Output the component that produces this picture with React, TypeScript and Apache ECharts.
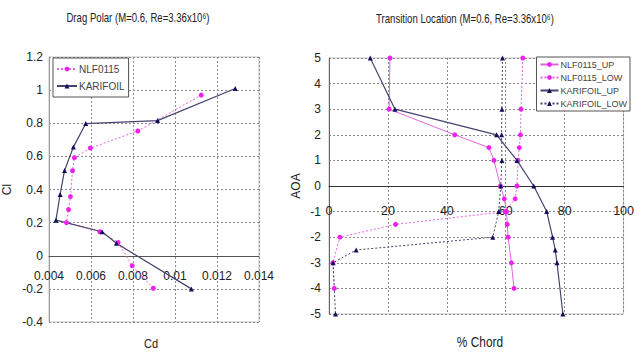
import React, { useEffect, useRef } from "react";
import * as echarts from "echarts";

const FONT = "'Liberation Sans', Arial, sans-serif";

// Drag polar
const nlfCd = [0.00897, 0.00796, 0.00729, 0.00642, 0.00483, 0.00493, 0.00502, 0.00512, 0.00521, 0.00597, 0.00823, 0.01125];
const nlfCl = [-0.196, -0.06, 0.08, 0.145, 0.2, 0.279, 0.357, 0.513, 0.592, 0.65, 0.753, 0.97];
const karCd = [0.01078, 0.00721, 0.00653, 0.00433, 0.00453, 0.00474, 0.00516, 0.00575, 0.00917, 0.01287];
const karCl = [-0.2, 0.075, 0.145, 0.215, 0.37, 0.515, 0.656, 0.798, 0.816, 1.01];

// Transition location
const nlfUpAoa = [5, 3, 2, 1.5, 1, 0, -0.5, -1, -1.5, -2, -3, -4];
const nlfUpPct = [20.7, 20.4, 42.7, 54.3, 56.0, 58.2, 59.5, 60.3, 60.5, 60.8, 61.9, 62.8];
const nlfLowAoa = [5, 3, 2, 1.5, 1, 0, -0.5, -1, -1.5, -2, -3, -4];
const nlfLowPct = [65.8, 65.2, 65.0, 64.6, 64.2, 63.8, 63.2, 59.8, 22.6, 3.7, 1.3, 1.8];
const karUpAoa = [5, 3, 2, 1, 0, -1, -2, -2.5, -3, -5];
const karUpPct = [14.0, 22.4, 56.9, 63.8, 69.5, 73.9, 75.9, 76.8, 77.4, 79.4];
const karLowAoa = [5, 3, 2, 1, 0, -1, -2, -2.5, -3, -5];
const karLowPct = [58.9, 58.7, 58.6, 58.7, 58.3, 57.6, 55.6, 9.2, 1.4, 2.2];

const leftTitle = "Drag Polar (M=0.6, Re=3.36x10⁶)";
const rightTitle = "Transition Location (M=0.6, Re=3.36x10⁶)";

const PINK = "#f020f0";
const PINK_LINE = "#e066e0";
const NAVY = "#10105a";
const NAVY_LINE = "#44446e";

const zip = (xs: number[], ys: number[]) => xs.map((x, i) => [x, ys[i]]);

const gridLine = { show: true, lineStyle: { type: [2, 2] as any, color: "#8a8a8a", width: 1 } };
const labelStyle = { fontFamily: FONT, fontSize: 12, color: "#222" };

export default function App() {
  const ref = useRef<HTMLDivElement>(null);
  useEffect(() => {
    const chart = echarts.init(ref.current!, null, { renderer: "svg" });
    chart.setOption({
      animation: false,
      backgroundColor: "#fff",
      textStyle: { fontFamily: FONT },
      grid: [
        { left: 47, top: 57, width: 212, height: 265, show: true, borderColor: "#c4c4c4", borderWidth: 1 },
        { left: 329, top: 58, width: 301, height: 256, show: true, borderColor: "#c4c4c4", borderWidth: 1 },
      ],
      xAxis: [
        {
          gridIndex: 0, type: "value", min: 0.004, max: 0.014, interval: 0.002,
          axisLine: { onZero: true, lineStyle: { color: "#555", width: 1 } },
          axisTick: { show: false },
          axisLabel: { ...labelStyle, margin: -52, formatter: (v: number) => String(parseFloat(v.toFixed(3))) },
          splitLine: gridLine,
        },
        {
          gridIndex: 1, type: "value", min: 0, max: 100, interval: 20,
          axisLine: { onZero: true, lineStyle: { color: "#333", width: 1 } },
          axisTick: { show: false },
          axisLabel: { ...labelStyle, fontSize: 12.5, margin: -110 },
          splitLine: gridLine,
        },
      ],
      yAxis: [
        {
          gridIndex: 0, type: "value", min: -0.4, max: 1.2, interval: 0.2,
          axisLine: { show: true, lineStyle: { color: "#999" } },
          axisTick: { show: false },
          axisLabel: { ...labelStyle, margin: 6, formatter: (v: number) => String(parseFloat(v.toFixed(2))) },
          splitLine: gridLine,
          name: "Cl", nameLocation: "middle", nameGap: 36,
          nameTextStyle: { fontFamily: FONT, fontSize: 12, color: "#222" },
        },
        {
          gridIndex: 1, type: "value", min: -5, max: 5, interval: 1,
          axisLine: { show: true, lineStyle: { color: "#666" } },
          axisTick: { show: false },
          axisLabel: { ...labelStyle, margin: 8 },
          splitLine: gridLine,
          name: "AOA", nameLocation: "middle", nameGap: 27,
          nameTextStyle: { fontFamily: FONT, fontSize: 12, color: "#222" },
        },
      ],
      legend: [
        {
          data: ["NLF0115", "KARIFOIL"], orient: "vertical", left: 53, top: 58,
          padding: [6, 4, 6, 3], itemGap: 7, itemWidth: 20, itemHeight: 6,
          borderColor: "#555", borderWidth: 1, backgroundColor: "#fff",
          textStyle: { fontFamily: FONT, fontSize: 10, color: "#444", padding: [0, 0, 0, -3] },
        },
        {
          data: ["NLF0115_UP", "NLF0115_LOW", "KARIFOIL_UP", "KARIFOIL_LOW"], orient: "vertical", right: 7, top: 57,
          padding: [3, 3, 3, 3], itemGap: 4, itemWidth: 18, itemHeight: 6,
          borderColor: "#555", borderWidth: 1, backgroundColor: "#fff",
          textStyle: { fontFamily: FONT, fontSize: 9, color: "#444", padding: [0, 0, 0, -3] },
        },
      ],
      graphic: [
        { type: "text", x: 138, y: 18, scaleX: 0.8, style: { text: leftTitle, font: `12px ${FONT}`, fill: "#222", align: "center", verticalAlign: "middle" } },
        { type: "text", x: 465, y: 19, scaleX: 0.8, style: { text: rightTitle, font: `12px ${FONT}`, fill: "#222", align: "center", verticalAlign: "middle" } },
        { type: "text", x: 151, y: 344, scaleX: 0.85, style: { text: "Cd", font: `13px ${FONT}`, fill: "#222", align: "center", verticalAlign: "middle" } },
        { type: "text", x: 480, y: 342, scaleX: 0.85, style: { text: "% Chord", font: `14px ${FONT}`, fill: "#222", align: "center", verticalAlign: "middle" } },
      ],
      series: [
        {
          name: "NLF0115", type: "line", xAxisIndex: 0, yAxisIndex: 0, data: zip(nlfCd, nlfCl),
          symbol: "circle", symbolSize: 5, itemStyle: { color: PINK },
          lineStyle: { color: PINK_LINE, width: 1, type: [2, 2] },
        },
        {
          name: "KARIFOIL", type: "line", xAxisIndex: 0, yAxisIndex: 0, data: zip(karCd, karCl),
          symbol: "triangle", symbolSize: 5, itemStyle: { color: NAVY },
          lineStyle: { color: NAVY_LINE, width: 1.2 },
        },
        {
          name: "NLF0115_UP", type: "line", xAxisIndex: 1, yAxisIndex: 1, data: zip(nlfUpPct, nlfUpAoa),
          symbol: "circle", symbolSize: 5, itemStyle: { color: PINK },
          lineStyle: { color: PINK_LINE, width: 1 },
        },
        {
          name: "NLF0115_LOW", type: "line", xAxisIndex: 1, yAxisIndex: 1, data: zip(nlfLowPct, nlfLowAoa),
          symbol: "circle", symbolSize: 5, itemStyle: { color: PINK },
          lineStyle: { color: PINK_LINE, width: 1, type: [2, 2] },
        },
        {
          name: "KARIFOIL_UP", type: "line", xAxisIndex: 1, yAxisIndex: 1, data: zip(karUpPct, karUpAoa),
          symbol: "triangle", symbolSize: 5, itemStyle: { color: NAVY },
          lineStyle: { color: NAVY_LINE, width: 1.2 },
        },
        {
          name: "KARIFOIL_LOW", type: "line", xAxisIndex: 1, yAxisIndex: 1, data: zip(karLowPct, karLowAoa),
          symbol: "triangle", symbolSize: 5, itemStyle: { color: NAVY },
          lineStyle: { color: NAVY_LINE, width: 1, type: [2, 2] },
        },
      ],
    });
    return () => chart.dispose();
  }, []);
  return (
    <div
      ref={ref}
      style={{ position: "fixed", left: 0, top: 0, width: 637, height: 354, background: "#fff" }}
    />
  );
}
